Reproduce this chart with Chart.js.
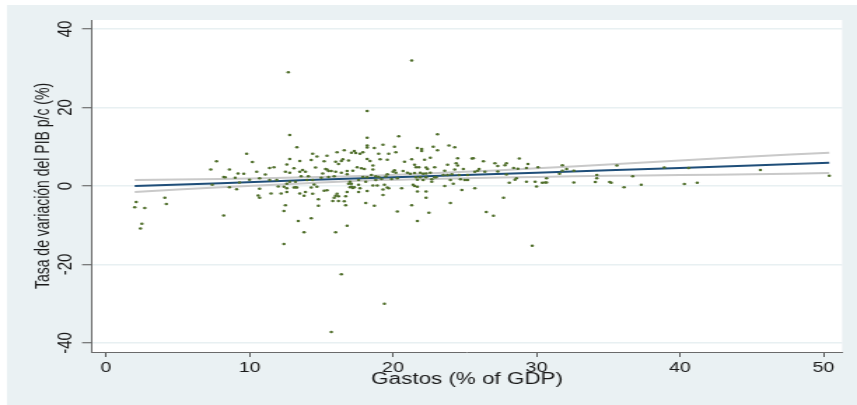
<!DOCTYPE html>
<html>
<head>
<meta charset="utf-8">
<script src="https://cdn.jsdelivr.net/npm/chart.js@4.4.1/dist/chart.umd.min.js"></script>
<style>
  html, body { margin: 0; padding: 0; background: #ffffff; }
  #scatterChart { display: block; }
</style>
</head>
<body>
<!-- the graph is drawn 612px wide and stretched sideways to 857px -->
<canvas id="scatterChart" width="612" height="405" style="width: 857px; height: 405px;"></canvas>
<script>
// gasto publico (% del PIB) y tasa de variacion del PIB per capita (%)
const gastos = [
  7.7, 7.3, 8.2, 7.4, 2.1, 2.0, 2.7, 4.1, 4.2, 2.5, 2.4, 8.2,
  12.8, 13.3, 9.8, 10.2, 12.8, 13.5, 14.4, 14.3, 8.6, 8.3, 9.2, 9.6, 10.5, 11.4, 11.7, 11.1, 10.7, 10.0,
  9.0, 9.3, 8.6, 9.1, 10.7, 10.6, 10.7, 11.4, 11.9, 12.6, 13.1, 12.5, 12.8, 13.5, 13.7, 13.9, 13.6, 14.1,
  14.4, 14.0, 13.2, 12.8, 12.6, 12.4, 12.6, 12.0, 12.2, 12.6, 13.1, 13.2, 13.3, 13.5, 13.8, 13.9, 14.3, 14.4,
  11.5, 12.5, 12.4, 13.4, 13.8, 12.4, 14.5, 12.7, 14.3,
  18.2, 20.4, 18.2, 18.2, 19.3, 20.1, 20.2, 20.8, 18.7, 19.0, 19.7, 19.1, 19.6, 18.4, 18.2, 17.9, 17.7, 17.3,
  17.4, 17.1, 16.6, 16.5, 16.1, 15.4, 15.2, 16.0, 16.2, 14.7, 16.9, 16.4, 17.5, 17.8, 18.0, 18.6, 18.6, 17.2,
  16.8, 16.8, 15.4, 15.5, 15.7, 15.3, 15.1, 15.0, 14.6, 15.5, 15.9, 16.0, 16.4, 17.0, 16.9, 17.1, 17.6, 17.9,
  18.2, 18.5, 18.8, 19.0, 18.8, 19.2, 19.5, 19.6, 20.0, 20.1, 20.2, 20.3, 19.9, 20.7, 19.4, 18.9, 18.6, 18.1,
  17.6, 17.3, 17.1, 17.7, 18.2, 17.6, 17.2, 17.0, 15.2, 15.4, 14.7, 16.0, 16.1, 15.9, 16.2, 16.7, 16.6, 16.8,
  15.8, 16.2, 14.8, 14.8, 16.7, 18.1, 18.7, 19.3, 19.3, 19.6, 19.7, 20.3, 16.8, 16.0, 20.6, 21.3, 18.2, 16.4,
  19.4, 15.7,
  23.1, 21.7, 22.0, 22.0, 22.8, 23.1, 23.9, 24.3, 21.3, 22.2, 22.6, 24.5, 25.5, 25.6, 26.3, 27.1, 23.8, 24.4,
  24.5, 21.5, 21.6, 21.8, 22.3, 22.4, 22.9, 23.6, 24.3, 24.9, 26.0, 25.9, 25.7, 26.4, 21.0, 21.2, 21.5, 21.9,
  22.1, 22.3, 22.6, 21.6, 21.9, 21.7, 22.1, 22.3, 22.7, 22.9, 23.0, 23.5, 23.8, 24.1, 24.6, 25.2, 24.7, 25.0,
  25.2, 24.0, 24.2, 23.6, 22.7, 21.4, 21.5, 21.7, 21.7, 22.3, 22.3, 24.8, 25.7, 21.3, 24.0, 22.5, 21.7, 26.5,
  27.0,
  28.8, 29.4, 27.9, 27.8, 27.3, 28.4, 28.7, 29.3, 30.1, 27.3, 27.9, 31.8, 31.8, 32.1, 32.6, 31.6, 28.6, 28.5,
  28.1, 29.3, 29.9, 30.0, 30.4, 30.6, 30.7, 30.7, 32.6, 34.1, 34.2, 34.2, 27.7, 29.7,
  35.6, 38.9, 40.6, 45.6, 36.7, 35.1, 35.2, 36.1, 37.3, 40.3, 41.2, 50.4
];
const tasa = [
  6.3, 4.2, 2.3, 0.3, -4.1, -5.4, -5.6, -3.0, -4.6, -9.6, -10.8, -7.5,
  13.0, 9.9, 8.2, 6.1, 6.9, 6.4, 8.2, 6.6, 4.2, 2.2, 3.2, 3.1, 3.6, 4.6, 4.8, 2.9, 2.0, 1.6,
  2.1, 0.9, -0.3, -0.8, -0.7, -2.4, -3.0, 1.5, 1.5, 5.5, 4.5, 3.6, 3.4, 3.6, 4.1, 3.6, 2.5, 2.5,
  1.5, 1.5, 1.1, 1.1, 0.6, -0.2, -0.6, -0.1, -1.9, -1.5, -0.4, -0.3, -0.4, -1.9, -2.5, -1.5, -0.4, -2.0,
  -1.9, -4.9, -6.4, -8.9, -11.8, -14.8, 0.4, 29.0, -8.2,
  12.3, 12.7, 10.3, 9.8, 10.5, 10.0, 8.6, 6.2, 9.7, 8.2, 8.2, 6.8, 6.7, 6.4, 6.9, 8.6, 8.2, 8.9,
  8.4, 8.5, 9.1, 6.8, 8.6, 7.7, 6.3, 6.2, 5.6, 7.5, 6.5, 6.4, 4.8, 4.5, 4.3, 5.2, 4.2, 3.9,
  3.8, 3.0, 4.2, 3.8, 3.8, 4.3, 3.2, 2.1, 4.7, 2.3, 2.5, 3.6, 3.4, 1.1, 0.6, 0.6, 1.5, 2.3,
  2.2, 2.8, 2.5, 2.3, 1.5, 1.8, 2.4, 3.0, 3.6, 4.0, 3.4, 2.0, 1.8, 3.8, 0.3, 0.1, 0.1, 1.1,
  0.3, -0.3, -0.2, -0.6, -1.3, -1.5, -0.5, -0.3, -1.2, -1.1, -0.2, -2.5, -2.0, -3.0, -2.6, -2.6, -3.9, -1.5,
  -3.8, -3.8, -3.4, -5.0, -4.9, -4.3, -5.0, -0.9, -2.3, -0.4, -0.6, -6.5, -10.1, -11.8, -0.6, 32.0, 19.1, -22.5,
  -30.0, -37.2,
  13.2, 9.7, 9.4, 8.9, 10.0, 9.1, 10.3, 9.9, 6.8, 6.7, 7.2, 7.1, 7.0, 7.1, 6.3, 5.8, 5.4, 5.8,
  5.2, 5.4, 4.8, 4.8, 4.7, 4.3, 4.8, 3.9, 4.2, 4.3, 4.3, 3.9, 3.6, 3.6, 3.4, 3.1, 3.3, 3.4,
  3.1, 3.2, 3.4, 2.2, 2.2, 1.6, 1.5, 2.2, 1.7, 2.2, 2.2, 2.8, 2.8, 3.0, 2.8, 2.8, 1.7, 1.5,
  1.5, 1.5, 0.6, 0.0, 1.1, 0.3, 0.0, -0.2, -1.4, -1.4, -3.0, -1.0, -0.6, -4.9, -4.3, -6.8, -8.9, -6.6,
  -7.6,
  7.0, 5.6, 5.8, 5.3, 5.1, 4.6, 4.4, 4.6, 4.8, 3.7, 2.9, 5.3, 3.9, 4.3, 3.9, 3.1, 2.0, 1.6,
  0.8, 1.1, 1.1, -0.1, 0.8, 0.9, 0.9, 2.0, 0.9, 1.0, 2.8, 2.0, -3.0, -15.2,
  5.2, 4.7, 4.6, 4.1, 2.5, 1.0, 0.8, -0.3, 0.3, 0.5, 0.8, 2.6
];

// recta ajustada e intervalo de confianza al 95%
const ajusteX = [2.0, 8.0, 14.0, 19.0, 25.0, 30.0, 35.0, 40.0, 45.0, 50.4];
const ajuste = [0.0, 0.7, 1.5, 2.1, 2.8, 3.4, 4.0, 4.6, 5.2, 5.9];
const icSup = [1.5, 1.8, 2.2, 2.7, 3.6, 4.5, 5.5, 6.5, 7.5, 8.5];
const icInf = [-1.5, -0.3, 0.7, 1.5, 2.0, 2.3, 2.6, 2.8, 3.0, 3.3];

const xTicks = [0, 10, 20, 30, 40, 50];
const yTicks = [-40, -20, 0, 20, 40];

const toPoints = (xs, ys) => xs.map((x, i) => ({ x: x, y: ys[i] }));

// fondo gris azulado alrededor y region del grafico en blanco
const fondo = {
  id: "fondo",
  beforeDraw(chart) {
    const { ctx, chartArea } = chart;
    ctx.save();
    ctx.fillStyle = "#ffffff";
    ctx.fillRect(0, 0, chart.width, chart.height);
    ctx.fillStyle = "#eaf1f3";
    ctx.fillRect(5, 5, chart.width - 5, chart.height - 5);
    ctx.fillStyle = "#ffffff";
    ctx.fillRect(chartArea.left, chartArea.top, chartArea.right - chartArea.left, chartArea.bottom - chartArea.top);
    ctx.restore();
  },
};

const font = "'Liberation Sans', Arial, sans-serif";

new Chart(document.getElementById("scatterChart"), {
  type: "scatter",
  data: {
    datasets: [
      {
        data: toPoints(gastos, tasa),
        backgroundColor: "#4f6e2a",
        borderWidth: 0,
        pointRadius: 1.25,
      },
      {
        type: "line",
        data: toPoints(ajusteX, ajuste),
        borderColor: "#1f4e79",
        borderWidth: 2,
        pointRadius: 0,
        tension: 0,
      },
      {
        type: "line",
        data: toPoints(ajusteX, icSup),
        borderColor: "#c9c9c9",
        borderWidth: 2,
        pointRadius: 0,
        tension: 0.3,
      },
      {
        type: "line",
        data: toPoints(ajusteX, icInf),
        borderColor: "#c9c9c9",
        borderWidth: 2,
        pointRadius: 0,
        tension: 0.3,
      },
    ],
  },
  options: {
    responsive: false,
    animation: false,
    layout: { padding: { left: 0, top: 20, right: 10.6, bottom: 0 } },
    plugins: { legend: { display: false }, tooltip: { enabled: false } },
    scales: {
      x: {
        type: "linear",
        min: -0.976,
        max: 51.3,
        afterBuildTicks: (scale) => {
          scale.ticks = xTicks.map((v) => ({ value: v }));
        },
        afterFit: (scale) => {
          scale.height = 53;
        },
        grid: { drawOnChartArea: false, tickLength: 5, tickColor: "#555555", tickWidth: 1 },
        border: { color: "#6a6a6a", width: 1 },
        ticks: { autoSkip: false, padding: 3, color: "#1a1a1a", font: { family: font, size: 14 } },
        title: {
          display: true,
          text: "Gastos (% of GDP)",
          color: "#1a1a1a",
          font: { family: font, size: 16 },
          padding: { top: 0, bottom: 15.4 },
        },
      },
      y: {
        min: -42.29,
        max: 42.29,
        afterBuildTicks: (scale) => {
          scale.ticks = yTicks.map((v) => ({ value: v }));
        },
        afterFit: (scale) => {
          scale.width = 65.7;
        },
        grid: { color: "#e8f0f2", lineWidth: 1.5, tickLength: 7.1, tickColor: "#555555", tickWidth: 1 },
        border: { color: "#6a6a6a", width: 1 },
        ticks: {
          autoSkip: false,
          minRotation: 90,
          maxRotation: 90,
          crossAlign: "center",
          padding: 1.4,
          color: "#1a1a1a",
          font: { family: font, size: 15 },
        },
        title: {
          display: true,
          text: "Tasa de variación del PIB p/c (%)",
          color: "#1a1a1a",
          font: { family: font, size: 14 },
          padding: { top: 22.3, bottom: 0 },
        },
      },
    },
  },
  plugins: [fondo],
});
</script>
</body>
</html>
